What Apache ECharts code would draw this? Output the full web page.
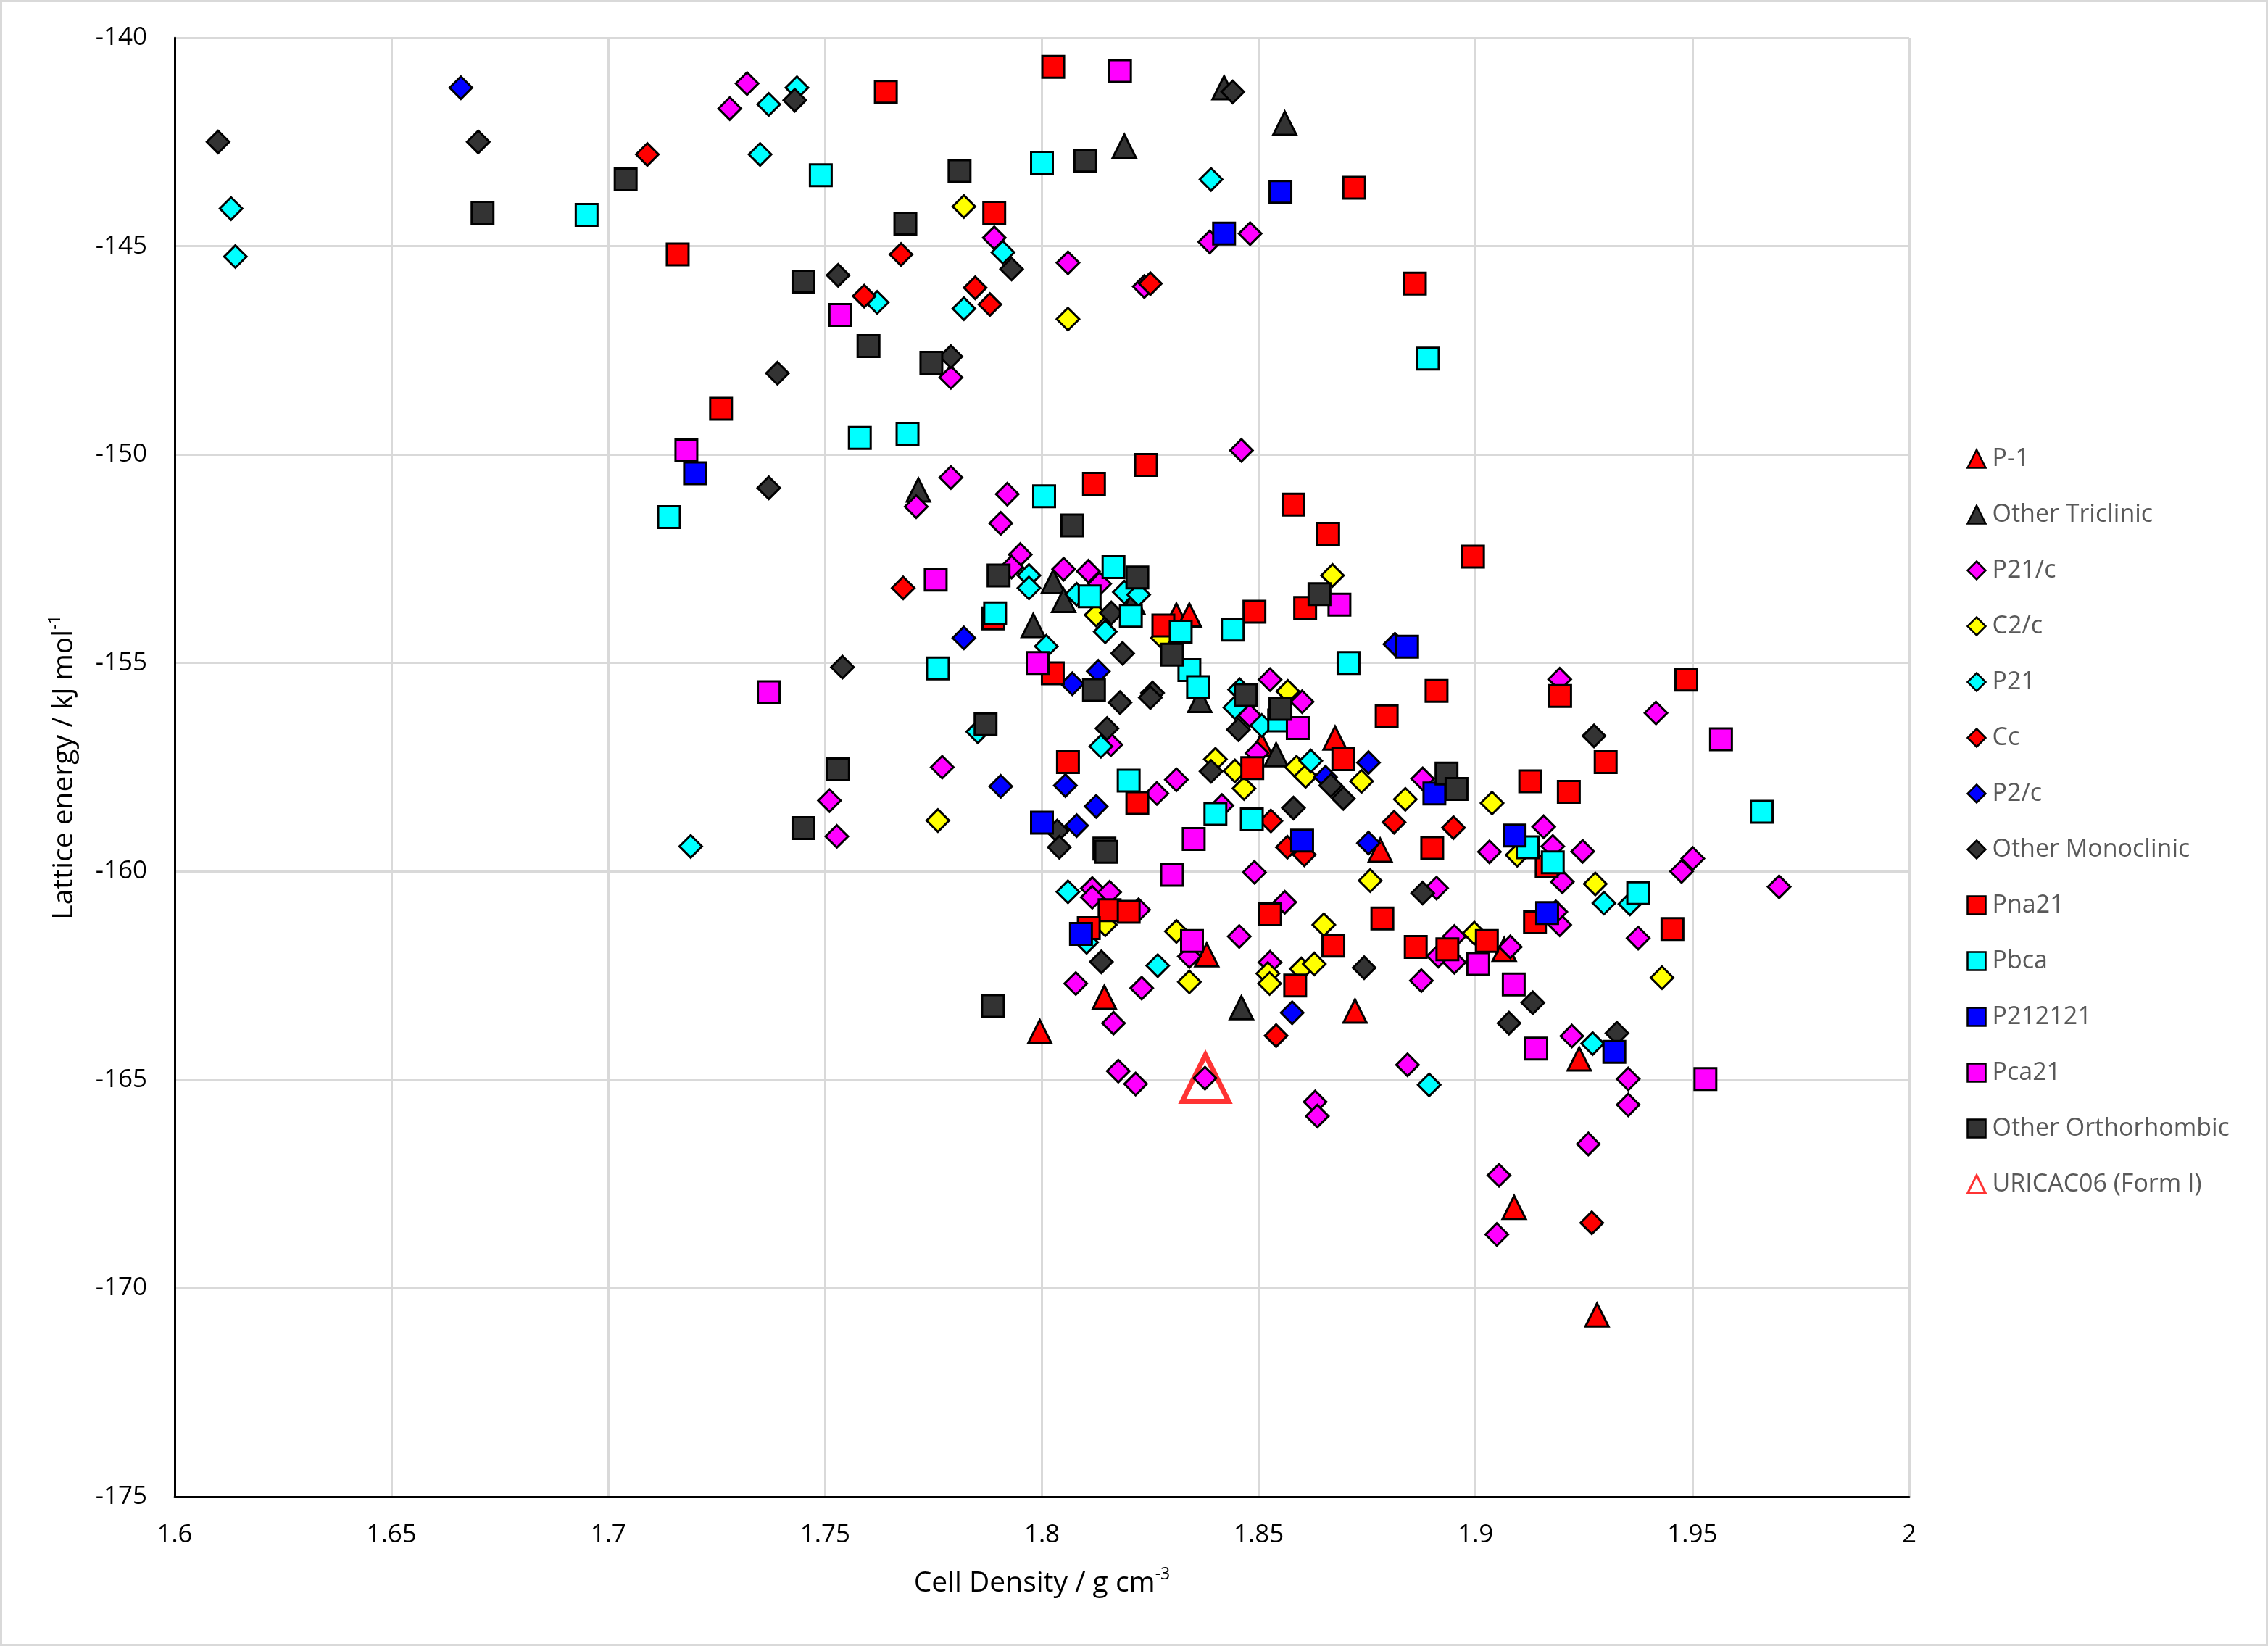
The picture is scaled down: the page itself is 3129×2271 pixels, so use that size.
<!DOCTYPE html>
<html>
<head>
<meta charset="utf-8">
<title>Lattice energy vs cell density</title>
<script src="https://cdn.jsdelivr.net/npm/echarts@6/dist/echarts.min.js"></script>
<style>
html, body { margin: 0; padding: 0; background: #fff; }
#chart { width: 3129px; height: 2271px; }
</style>
</head>
<body>
<div id="chart"></div>
<script>
// [density, lattice energy]
const p1Pts = [[1.831,-153.85],[1.834,-153.85],[1.8506,-156.96],[1.8676,-156.8],[1.838,-162.0],[1.8144,-163.02],[1.7995,-163.84],[1.878,-159.49],[1.9066,-161.87],[1.8722,-163.35],[1.9239,-164.5],[1.9089,-168.06],[1.928,-170.64]];
const triclinicPts = [[1.819,-142.6],[1.842,-141.2],[1.856,-142.05],[1.7715,-150.85],[1.8026,-153.05],[1.805,-153.5],[1.798,-154.1],[1.821,-153.55],[1.8364,-155.9],[1.854,-157.2],[1.846,-163.27]];
const p21cPts = [[1.732,-141.1],[1.728,-141.7],[1.789,-144.8],[1.806,-145.4],[1.779,-148.15],[1.8387,-144.9],[1.848,-144.7],[1.8236,-145.97],[1.846,-149.9],[1.771,-151.25],[1.779,-150.55],[1.792,-150.95],[1.7905,-151.65],[1.795,-152.4],[1.793,-152.7],[1.805,-152.75],[1.8107,-152.8],[1.8133,-153.1],[1.8526,-155.4],[1.86,-155.93],[1.8479,-156.26],[1.8496,-157.16],[1.8159,-156.96],[1.777,-157.5],[1.8265,-158.13],[1.831,-157.8],[1.8415,-158.42],[1.849,-160.02],[1.751,-158.3],[1.7527,-159.16],[1.8116,-160.41],[1.8116,-160.62],[1.8156,-160.5],[1.8223,-160.92],[1.834,-162.04],[1.8455,-161.56],[1.823,-162.8],[1.8078,-162.69],[1.8165,-163.64],[1.856,-160.74],[1.8526,-162.18],[1.8176,-164.79],[1.8216,-165.1],[1.8376,-164.96],[1.863,-165.53],[1.8635,-165.87],[1.9194,-155.39],[1.9416,-156.2],[1.8878,-157.78],[1.9157,-158.93],[1.9032,-159.53],[1.9178,-159.4],[1.9247,-159.52],[1.92,-160.25],[1.9501,-159.69],[1.9475,-160.0],[1.97,-160.37],[1.891,-160.4],[1.9194,-161.28],[1.9185,-160.97],[1.9375,-161.6],[1.8914,-162.03],[1.8951,-162.18],[1.8951,-161.56],[1.908,-161.81],[1.8875,-162.62],[1.9222,-163.95],[1.8843,-164.64],[1.9352,-164.98],[1.9352,-165.6],[1.926,-166.54],[1.9054,-167.29],[1.9049,-168.71]];
const c2cPts = [[1.782,-144.05],[1.806,-146.75],[1.8125,-153.85],[1.8278,-154.4],[1.867,-152.9],[1.8567,-155.68],[1.84,-157.31],[1.8445,-157.59],[1.8466,-158.01],[1.8587,-157.5],[1.8608,-157.72],[1.776,-158.78],[1.8146,-161.28],[1.831,-161.44],[1.834,-162.65],[1.865,-161.28],[1.8521,-162.45],[1.8525,-162.69],[1.8598,-162.34],[1.8628,-162.22],[1.8737,-157.84],[1.8838,-158.27],[1.9038,-158.36],[1.9096,-159.61],[1.9276,-160.3],[1.8757,-160.22],[1.943,-162.55],[1.8997,-161.48]];
const p21Pts = [[1.613,-144.1],[1.614,-145.25],[1.719,-159.4],[1.7435,-141.2],[1.737,-141.6],[1.735,-142.8],[1.791,-145.15],[1.762,-146.35],[1.782,-146.5],[1.839,-143.4],[1.797,-152.9],[1.797,-153.2],[1.808,-153.35],[1.819,-153.3],[1.8223,-153.36],[1.8146,-154.25],[1.801,-154.6],[1.8456,-155.64],[1.8445,-156.07],[1.8507,-156.5],[1.7852,-156.65],[1.8136,-157.0],[1.862,-157.35],[1.806,-160.49],[1.8103,-161.7],[1.8267,-162.26],[1.9296,-160.76],[1.9356,-160.78],[1.8893,-165.12],[1.927,-164.13]];
const ccPts = [[1.709,-142.8],[1.7675,-145.2],[1.759,-146.2],[1.7846,-146.0],[1.788,-146.4],[1.825,-145.9],[1.768,-153.2],[1.8528,-158.79],[1.8566,-159.42],[1.8605,-159.6],[1.854,-163.94],[1.8812,-158.82],[1.8949,-158.95],[1.9268,-168.43]];
const p2cPts = [[1.666,-141.2],[1.782,-154.4],[1.813,-155.2],[1.807,-155.5],[1.7905,-157.96],[1.8054,-157.94],[1.808,-158.9],[1.8125,-158.44],[1.8654,-157.74],[1.8577,-163.39],[1.8814,-154.55],[1.8753,-157.39],[1.8753,-159.32]];
const monoPts = [[1.61,-142.5],[1.67,-142.5],[1.743,-141.5],[1.844,-141.3],[1.793,-145.55],[1.753,-145.7],[1.779,-147.65],[1.739,-148.05],[1.737,-150.8],[1.816,-153.8],[1.8186,-154.77],[1.818,-155.95],[1.8255,-155.72],[1.825,-155.83],[1.8453,-156.6],[1.815,-156.57],[1.839,-157.6],[1.8666,-157.94],[1.858,-158.48],[1.8035,-159.03],[1.804,-159.42],[1.754,-155.1],[1.8137,-162.17],[1.9273,-156.75],[1.8695,-158.25],[1.8878,-160.52],[1.8743,-162.31],[1.9132,-163.15],[1.9077,-163.64],[1.9326,-163.88]];
const pna21Pts = [[1.716,-145.2],[1.726,-148.9],[1.764,-141.3],[1.789,-144.2],[1.8026,-140.7],[1.812,-150.7],[1.824,-150.25],[1.858,-151.2],[1.866,-151.9],[1.872,-143.6],[1.886,-145.9],[1.7888,-153.93],[1.8025,-155.25],[1.828,-154.1],[1.849,-153.77],[1.8607,-153.68],[1.806,-157.38],[1.822,-158.36],[1.8485,-157.52],[1.8156,-160.93],[1.82,-160.97],[1.8108,-161.36],[1.8526,-161.03],[1.8672,-161.78],[1.8584,-162.74],[1.8994,-152.45],[1.9195,-155.79],[1.9486,-155.4],[1.891,-155.67],[1.8795,-156.28],[1.93,-157.38],[1.8695,-157.31],[1.9126,-157.84],[1.9215,-158.09],[1.89,-159.44],[1.9164,-159.88],[1.8785,-161.13],[1.9137,-161.22],[1.9454,-161.38],[1.8862,-161.81],[1.8935,-161.87],[1.9026,-161.67]];
const pbcaPts = [[1.695,-144.25],[1.714,-151.5],[1.749,-143.3],[1.758,-149.6],[1.769,-149.5],[1.8,-143.0],[1.8005,-151.0],[1.889,-147.7],[1.8165,-152.7],[1.811,-153.4],[1.8205,-153.87],[1.7892,-153.81],[1.832,-154.25],[1.844,-154.2],[1.834,-155.17],[1.836,-155.58],[1.8547,-156.38],[1.776,-155.13],[1.82,-157.82],[1.84,-158.62],[1.8484,-158.75],[1.8707,-155.0],[1.966,-158.57],[1.912,-159.42],[1.9178,-159.78],[1.9375,-160.52]];
const p212121Pts = [[1.72,-150.45],[1.855,-143.7],[1.842,-144.7],[1.86,-159.26],[1.8,-158.83],[1.809,-161.5],[1.8842,-154.61],[1.8905,-158.13],[1.909,-159.14],[1.9165,-161.0],[1.932,-164.33]];
const pca21Pts = [[1.718,-149.9],[1.7535,-146.65],[1.818,-140.8],[1.7755,-153.0],[1.799,-155.0],[1.737,-155.7],[1.8686,-153.6],[1.859,-156.56],[1.835,-159.22],[1.83,-160.08],[1.8346,-161.67],[1.9566,-156.83],[1.9006,-162.22],[1.9088,-162.71],[1.914,-164.25],[1.953,-164.98]];
const orthoPts = [[1.671,-144.2],[1.704,-143.4],[1.781,-143.2],[1.7685,-144.46],[1.745,-145.85],[1.76,-147.4],[1.7745,-147.8],[1.81,-142.95],[1.807,-151.7],[1.79,-152.9],[1.822,-152.95],[1.864,-153.35],[1.83,-154.8],[1.812,-155.65],[1.847,-155.77],[1.855,-156.1],[1.787,-156.47],[1.753,-157.55],[1.8144,-159.45],[1.8148,-159.53],[1.745,-158.96],[1.7887,-163.23],[1.8933,-157.65],[1.8956,-158.02]];
const uricacPts = [[1.8377,-164.96]];

const FONT = '"Open Sans", "Noto Sans", sans-serif';

function pts(name, data, symbol, color, size) {
    return {
        name: name,
        type: 'scatter',
        data: data,
        symbol: symbol,
        symbolSize: size,
        itemStyle: { color: color, borderColor: '#000', borderWidth: 3, opacity: 1 }
    };
}

const series = [
    pts('P-1', p1Pts, 'triangle', '#ff0000', 32),
    pts('Other Triclinic', triclinicPts, 'triangle', '#333333', 32),
    pts('P21/c', p21cPts, 'diamond', '#ff00ff', 31),
    pts('C2/c', c2cPts, 'diamond', '#ffff00', 31),
    pts('P21', p21Pts, 'diamond', '#00ffff', 31),
    pts('Cc', ccPts, 'diamond', '#ff0000', 31),
    pts('P2/c', p2cPts, 'diamond', '#0000ff', 31),
    pts('Other Monoclinic', monoPts, 'diamond', '#333333', 31),
    pts('Pna21', pna21Pts, 'rect', '#ff0000', 30),
    pts('Pbca', pbcaPts, 'rect', '#00ffff', 30),
    pts('P212121', p212121Pts, 'rect', '#0000ff', 30),
    pts('Pca21', pca21Pts, 'rect', '#ff00ff', 30),
    pts('Other Orthorhombic', orthoPts, 'rect', '#333333', 30),
    {
        name: 'URICAC06 (Form I)',
        type: 'scatter',
        data: uricacPts,
        symbol: 'triangle',
        symbolSize: 64,
        z: 1,
        itemStyle: { color: 'rgba(255,255,255,0)', borderColor: '#ff0000', borderWidth: 7 }
    }
];

const chart = echarts.init(document.getElementById('chart'), null, { renderer: 'canvas' });

chart.setOption({
    animation: false,
    backgroundColor: '#fff',
    grid: { left: 241, right: 495, top: 52, bottom: 206 },
    xAxis: {
        type: 'value',
        min: 1.6,
        max: 2.0,
        interval: 0.05,
        name: 'Cell Density / g cm{sup|-3}',
        nameLocation: 'middle',
        nameGap: 96,
        nameTextStyle: {
            fontFamily: FONT, fontSize: 39, color: '#000', lineHeight: 48,
            rich: { sup: { fontFamily: FONT, fontSize: 23, lineHeight: 23, verticalAlign: 'top', color: '#000' } }
        },
        axisLine: { show: true, onZero: false, lineStyle: { color: '#000', width: 3 } },
        axisTick: { show: false },
        axisLabel: {
            margin: 36, fontFamily: FONT, fontSize: 35, color: '#000',
            formatter: v => String(Math.round(v * 100) / 100)
        },
        splitLine: { show: true, lineStyle: { color: '#d9d9d9', width: 3 } }
    },
    yAxis: {
        type: 'value',
        min: -175,
        max: -140,
        interval: 5,
        name: 'Lattice energy / kJ mol{sup|-1}',
        nameLocation: 'middle',
        nameGap: 128,
        nameRotate: 90,
        nameTextStyle: {
            fontFamily: FONT, fontSize: 39, color: '#000', lineHeight: 48,
            rich: { sup: { fontFamily: FONT, fontSize: 23, lineHeight: 23, verticalAlign: 'top', color: '#000' } }
        },
        axisLine: { show: true, onZero: false, lineStyle: { color: '#000', width: 3 } },
        axisTick: { show: false },
        axisLabel: { margin: 38, fontFamily: FONT, fontSize: 35, color: '#000' },
        splitLine: { show: true, lineStyle: { color: '#d9d9d9', width: 3 } }
    },
    legend: {
        orient: 'vertical',
        left: 2708,
        top: 611,
        itemWidth: 25,
        itemHeight: 25,
        itemGap: 43,
        selectedMode: false,
        itemStyle: { borderWidth: 2.5 },
        textStyle: { fontFamily: FONT, fontSize: 34, color: '#595959', lineHeight: 26, padding: [0, 0, 0, 4] },
        data: series.map(s => s.name === 'URICAC06 (Form I)'
            ? { name: s.name, itemStyle: { borderWidth: 3, color: 'rgba(255,255,255,0)', borderColor: '#ff0000' } }
            : { name: s.name })
    },
    graphic: [{
        type: 'rect',
        silent: true,
        shape: { x: 1.5, y: 1.5, width: 3126, height: 2268 },
        style: { fill: 'none', stroke: '#d9d9d9', lineWidth: 3 }
    }],
    series: series
});
</script>
</body>
</html>
